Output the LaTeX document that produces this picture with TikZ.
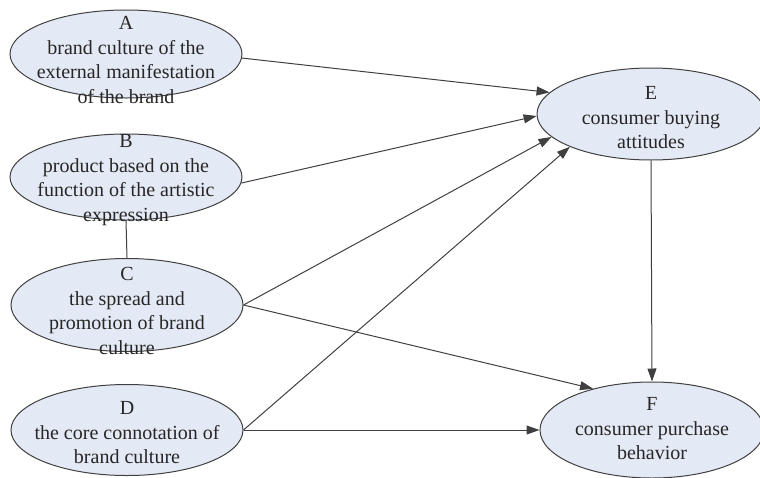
\documentclass[tikz,border=0pt]{standalone}
\usepackage{fontspec}
\setmainfont{Liberation Serif}
\usetikzlibrary{shapes.geometric,arrows.meta}
\definecolor{ovalfill}{RGB}{228,234,245}
\definecolor{linegray}{RGB}{64,64,64}
\definecolor{textgray}{RGB}{38,38,38}
\tikzset{
  oval/.style={ellipse, draw=linegray, fill=ovalfill, line width=1pt, inner sep=0pt},
  ovaltext/.style={align=center, text=textgray, inner sep=0pt, font=\rmfamily\fontsize{20}{24.5}\selectfont},
  link/.style={draw=linegray, line width=1pt, -{Triangle[length=13pt,width=9pt]}}
}
\begin{document}
\begin{tikzpicture}[x=1pt,y=-1pt]
  \useasboundingbox (0,0) rectangle (760,477);
  % left column
  \node[oval, minimum width=232pt, minimum height=88pt] (A) at (126,54) {};
  \node[oval, minimum width=232pt, minimum height=86pt] (B) at (126,177) {};
  \node[oval, minimum width=232pt, minimum height=93pt] (C) at (127,305) {};
  \node[oval, minimum width=232pt, minimum height=91pt] (D) at (127,430) {};
  % right column
  \node[oval, minimum width=228pt, minimum height=92pt] (E) at (651,114) {};
  \node[oval, minimum width=224pt, minimum height=96pt] (F) at (652,430) {};
  % texts
  \node[ovaltext] (A-text) at (126,60) {A\\brand culture of the\\external manifestation\\of the brand};
  \node[ovaltext] (B-text) at (126,180) {B\\product based on the\\function of the artistic\\expression};
  \node[ovaltext] (C-text) at (127,311) {C\\the spread and\\promotion of brand\\culture};
  \node[ovaltext] (D-text) at (127,433) {D\\the core connotation of\\brand culture};
  \node[ovaltext] (E-text) at (651,118) {E\\consumer buying\\attitudes};
  \node[ovaltext] (F-text) at (652,429) {F\\consumer purchase\\behavior};
  % connectors
  \draw[draw=linegray, line width=1pt] (B.south) -- (C.north);
  \draw[link] (A.-2) -- (E.168);
  \draw[link] (B.-3) -- (E.181);
  \draw[link] (C.east) -- (E.193);
  \draw[link] (C.east) -- (F.145);
  \draw[link] (D.east) -- (E.202);
  \draw[link] (D.east) -- (F.west);
  \draw[link] (E.south) -- (F.north);
\end{tikzpicture}
\end{document}
